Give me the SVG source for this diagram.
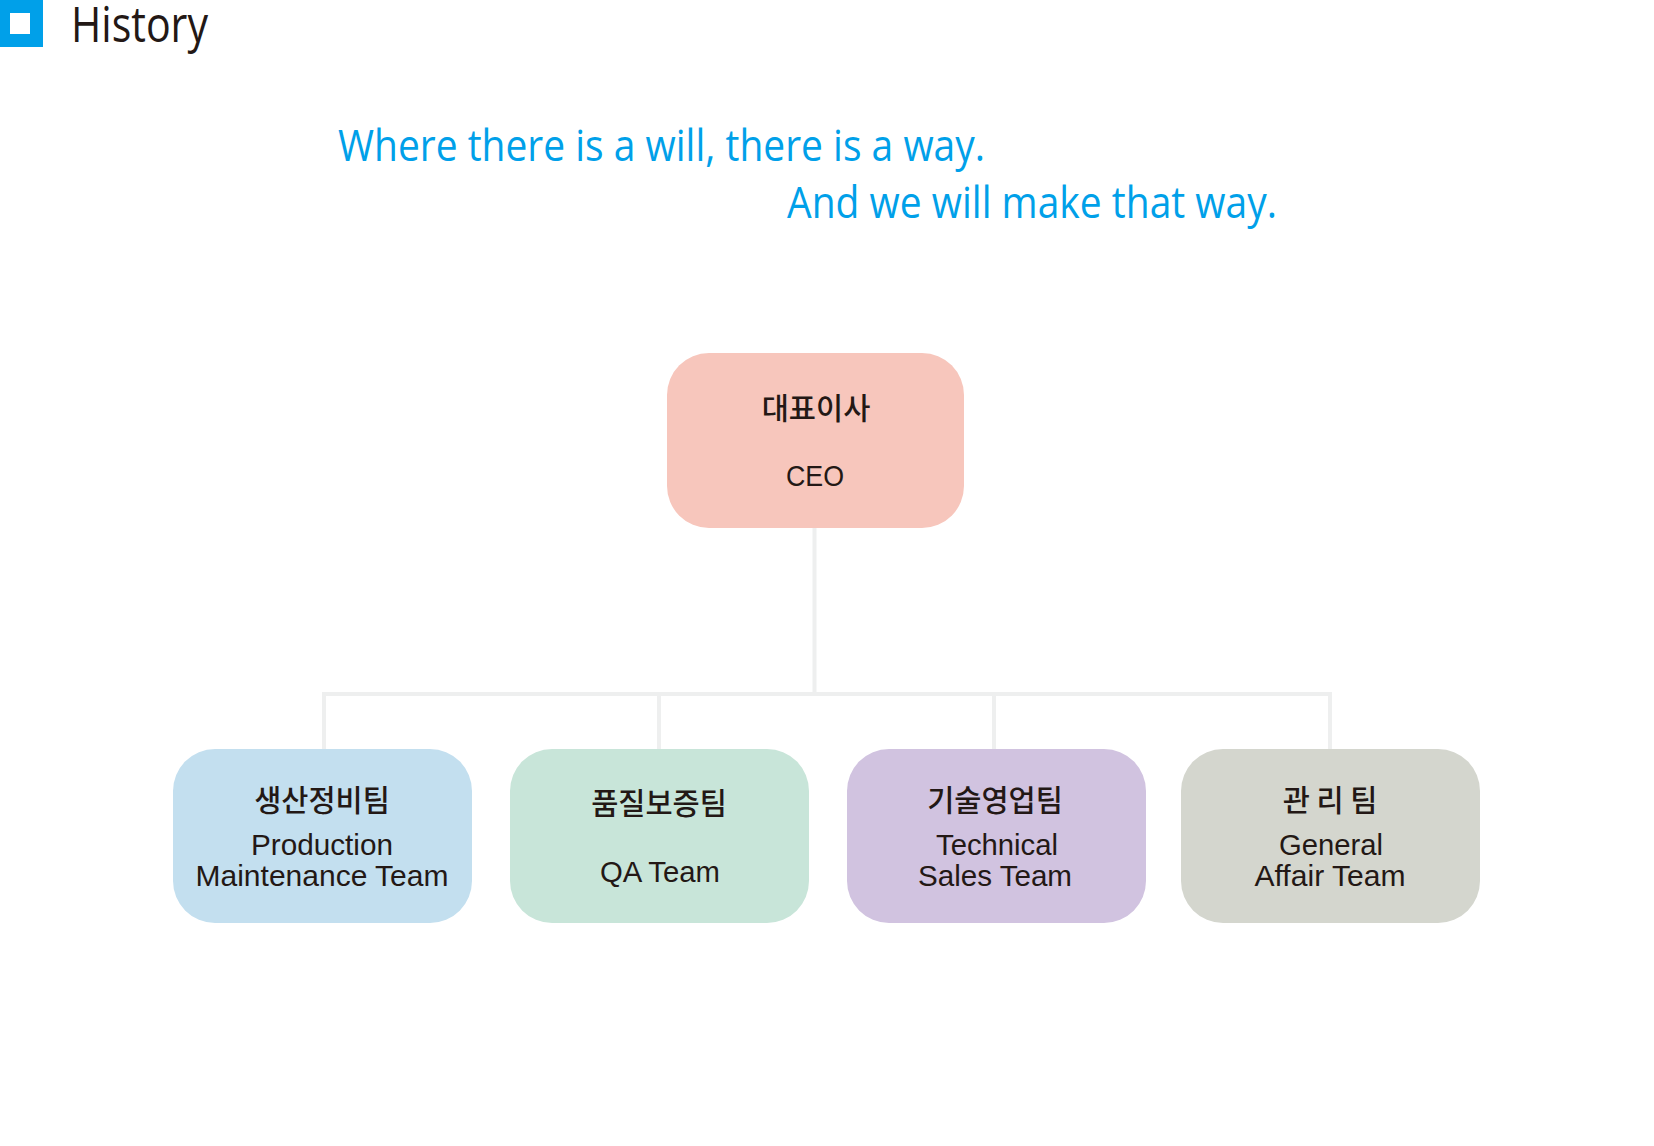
<svg xmlns="http://www.w3.org/2000/svg" width="1654" height="1146" viewBox="0 0 1654 1146">
  <style>
    .ko { font-family: "Noto Sans CJK KR", "Noto Sans", sans-serif; font-size: 29.5px; font-weight: 500; fill: #231815; text-anchor: middle; }
    .en { font-family: "Liberation Sans", Arial, sans-serif; font-size: 30px; fill: #231815; text-anchor: middle; }
    .tag { font-family: "Open Sans", "Noto Sans", sans-serif; font-size: 44px; fill: #00A0E9; }
    .conn { fill: none; stroke: #EEEFEF; stroke-width: 4; }
  </style>
  <rect x="0" y="0" width="1654" height="1146" fill="#FFFFFF"/>

  <g id="header">
    <rect x="0" y="0" width="43" height="47" fill="#00A0E9"/>
    <rect x="10" y="13" width="20" height="21" fill="#FFFFFF"/>
    <text x="71" y="42" font-family="'Open Sans', 'Noto Sans', sans-serif" font-size="50" fill="#231815" textLength="137" lengthAdjust="spacingAndGlyphs">History</text>
  </g>

  <g id="tagline">
    <text class="tag" x="338" y="161" textLength="647" lengthAdjust="spacingAndGlyphs">Where there is a will, there is a way.</text>
    <text class="tag" x="787" y="218" textLength="490" lengthAdjust="spacingAndGlyphs">And we will make that way.</text>
  </g>

  <g id="connectors">
    <path class="conn" d="M814.5 528 V694"/>
    <path class="conn" d="M324 749 V694 H1330 V749"/>
    <path class="conn" d="M659 694 V749"/>
    <path class="conn" d="M994 694 V749"/>
  </g>

  <g id="ceo">
    <rect x="667" y="353" width="297" height="175" rx="42" fill="#F7C6BC"/>
    <text class="ko" x="816" y="419">대표이사</text>
    <text class="en" x="815" y="486" font-size="31" textLength="58" lengthAdjust="spacingAndGlyphs">CEO</text>
  </g>

  <g id="production">
    <rect x="173" y="749" width="299" height="174" rx="42" fill="#C3DFEF"/>
    <text class="ko" x="322" y="811">생산정비팀</text>
    <text class="en" x="322" y="855" textLength="142" lengthAdjust="spacingAndGlyphs">Production</text>
    <text class="en" x="322" y="886" textLength="253" lengthAdjust="spacingAndGlyphs">Maintenance Team</text>
  </g>

  <g id="qa">
    <rect x="510" y="749" width="299" height="174" rx="42" fill="#C8E5D9"/>
    <text class="ko" x="659" y="814">품질보증팀</text>
    <text class="en" x="660" y="882" textLength="120" lengthAdjust="spacingAndGlyphs">QA Team</text>
  </g>

  <g id="sales">
    <rect x="847" y="749" width="299" height="174" rx="42" fill="#D1C3E0"/>
    <text class="ko" x="995" y="811">기술영업팀</text>
    <text class="en" x="997" y="855" textLength="122" lengthAdjust="spacingAndGlyphs">Technical</text>
    <text class="en" x="995" y="886" textLength="154" lengthAdjust="spacingAndGlyphs">Sales Team</text>
  </g>

  <g id="general">
    <rect x="1181" y="749" width="299" height="174" rx="42" fill="#D4D6CE"/>
    <text class="ko" x="1330" y="811">관 리 팀</text>
    <text class="en" x="1331" y="855" textLength="104" lengthAdjust="spacingAndGlyphs">General</text>
    <text class="en" x="1330" y="886" textLength="151" lengthAdjust="spacingAndGlyphs">Affair Team</text>
  </g>
</svg>
